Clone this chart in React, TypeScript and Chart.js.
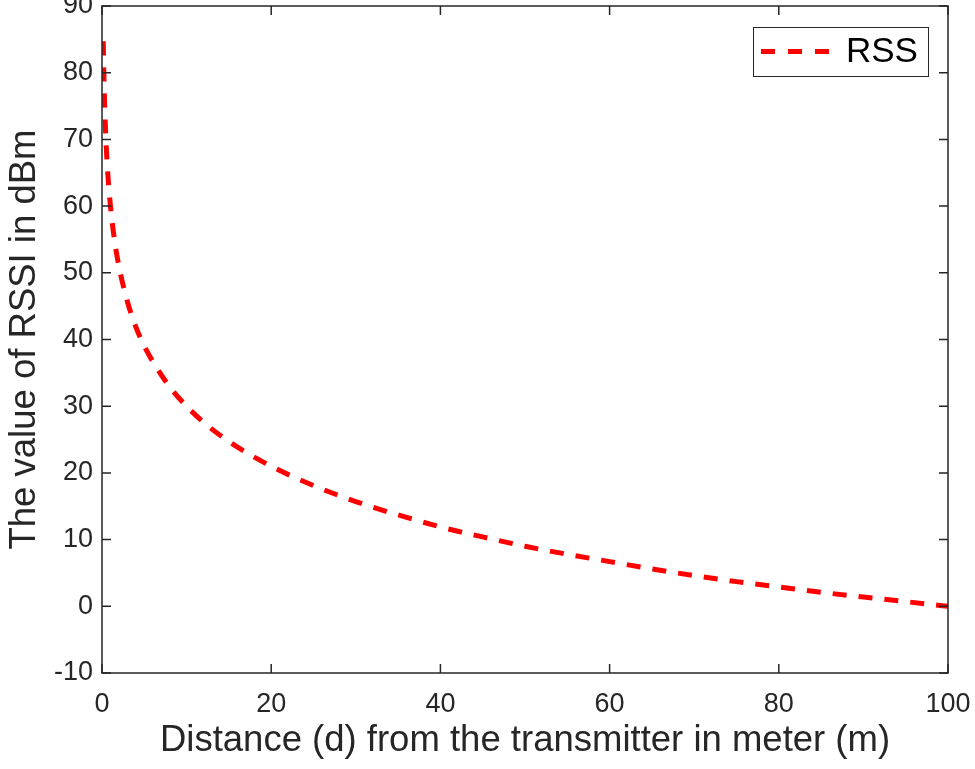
import React, { useEffect, useRef } from "react";
import { Chart, registerables } from "chart.js";

Chart.register(...registerables);

// ---- data ----
const distance = [0.15, 0.2, 0.3, 0.5, 0.7, 1, 1.5, 2, 3, 4, 5, 6, 8, 10, 12, 15, 20, 25, 30, 35, 40, 45, 50, 55, 60, 65, 70, 75, 80, 85, 90, 95, 100];
const rss = [84.7, 81.0, 75.7, 69.0, 64.6, 60.0, 54.7, 51.0, 45.7, 41.9, 39.0, 36.7, 32.9, 30.0, 27.6, 24.7, 21.0, 18.1, 15.7, 13.7, 11.9, 10.4, 9.0, 7.8, 6.7, 5.6, 4.6, 3.7, 2.9, 2.1, 1.4, 0.7, 0.0];
const xTicks = [0, 20, 40, 60, 80, 100];
const yTicks = [-10, 0, 10, 20, 30, 40, 50, 60, 70, 80, 90];
const seriesLabel = "RSS";
const xTitle = "Distance (d) from the transmitter in meter (m)";
const yTitle = "The value of RSSI in dBm";

const FONT = "'Liberation Sans', Arial, Helvetica, sans-serif";
const AXIS = "#262626";

const framePlugin = {
  id: "matlabFrame",
  afterDatasetsDraw(chart: any) {
    const { ctx, chartArea: a, scales } = chart;
    ctx.save();
    ctx.strokeStyle = AXIS;
    ctx.lineWidth = 1.5;
    ctx.setLineDash([]);
    ctx.strokeRect(a.left, a.top, a.right - a.left, a.bottom - a.top);
    ctx.beginPath();
    const tl = 9;
    for (const v of xTicks) {
      const px = scales.x.getPixelForValue(v);
      ctx.moveTo(px, a.bottom);
      ctx.lineTo(px, a.bottom - tl);
      ctx.moveTo(px, a.top);
      ctx.lineTo(px, a.top + tl);
    }
    for (const v of yTicks) {
      const py = scales.y.getPixelForValue(v);
      ctx.moveTo(a.left, py);
      ctx.lineTo(a.left + tl, py);
      ctx.moveTo(a.right, py);
      ctx.lineTo(a.right - tl, py);
    }
    ctx.stroke();

    // legend box (MATLAB style, top-right inside axes)
    const ds = chart.data.datasets[0];
    const bx = 753, by = 27, bw = 175, bh = 49;
    ctx.fillStyle = "#ffffff";
    ctx.fillRect(bx, by, bw, bh);
    ctx.lineWidth = 1;
    ctx.strokeStyle = AXIS;
    ctx.strokeRect(bx + 0.5, by + 0.5, bw, bh);
    ctx.beginPath();
    ctx.setLineDash([14, 13]);
    ctx.lineWidth = 5;
    ctx.strokeStyle = ds.borderColor;
    ctx.moveTo(761, by + bh / 2);
    ctx.lineTo(831, by + bh / 2);
    ctx.stroke();
    ctx.setLineDash([]);
    ctx.fillStyle = "#000000";
    ctx.font = `35px ${FONT}`;
    ctx.textBaseline = "middle";
    ctx.textAlign = "left";
    ctx.fillText(ds.label, 846, by + bh / 2 + 1);
    ctx.restore();
  },
};

export default function App() {
  const ref = useRef<HTMLCanvasElement | null>(null);

  useEffect(() => {
    document.body.style.margin = "0";
    const canvas = ref.current;
    if (!canvas) return;
    const chart = new Chart(canvas, {
      type: "line",
      data: {
        datasets: [
          {
            label: seriesLabel,
            data: distance.map((d, i) => ({ x: d, y: rss[i] })),
            borderColor: "rgb(255, 0, 0)",
            borderWidth: 5,
            borderDash: [14, 12],
            pointRadius: 0,
            fill: false,
            cubicInterpolationMode: "monotone",
          },
        ],
      },
      options: {
        animation: false,
        responsive: true,
        maintainAspectRatio: false,
        layout: { padding: { left: 0, top: 6, right: 27, bottom: 0 } },
        plugins: {
          legend: { display: false },
          tooltip: { enabled: false },
        },
        scales: {
          x: {
            type: "linear",
            min: 0,
            max: 100,
            afterBuildTicks: (s: any) => {
              s.ticks = xTicks.map((v) => ({ value: v }));
            },
            afterFit: (s: any) => {
              s.height = 96;
              s.paddingLeft = 0;
              s.paddingRight = 0;
            },
            grid: { display: false },
            border: { display: false },
            ticks: {
              color: AXIS,
              font: { family: FONT, size: 27 },
              padding: 7,
              maxRotation: 0,
            },
            title: {
              display: true,
              text: xTitle,
              color: AXIS,
              font: { family: FONT, size: 36.5 },
              padding: { top: 0, bottom: 6 },
            },
          },
          y: {
            type: "linear",
            min: -10,
            max: 90,
            afterBuildTicks: (s: any) => {
              s.ticks = yTicks.map((v) => ({ value: v }));
            },
            afterFit: (s: any) => {
              s.width = 102;
              s.paddingTop = 0;
              s.paddingBottom = 0;
            },
            grid: { display: false },
            border: { display: false },
            ticks: {
              color: AXIS,
              font: { family: FONT, size: 27 },
              padding: 1,
            },
            title: {
              display: true,
              text: yTitle,
              color: AXIS,
              font: { family: FONT, size: 36.5 },
              padding: { top: 3, bottom: 0 },
            },
          },
        },
      },
      plugins: [framePlugin],
    });
    return () => chart.destroy();
  }, []);

  return (
    <div style={{ width: 975, height: 769, position: "relative", background: "#fff" }}>
      <canvas ref={ref} />
    </div>
  );
}
